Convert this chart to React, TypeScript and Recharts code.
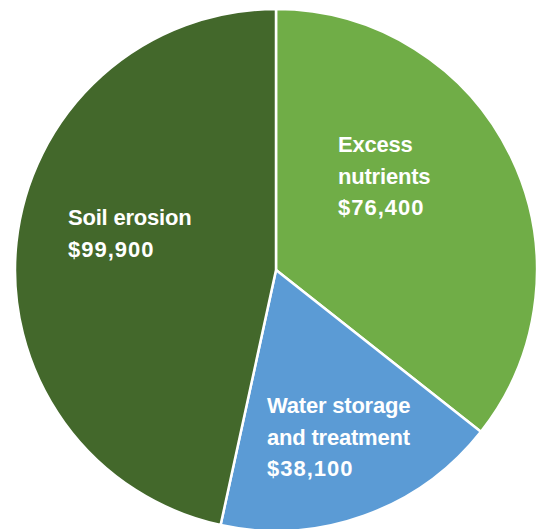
import React from "react";
import { PieChart, Pie, Cell } from "recharts";

const categories = ["Excess nutrients", "Water storage and treatment", "Soil erosion"];
const values = [76400, 38100, 99900];
const labelLines = [
  ["Excess", "nutrients", "$76,400"],
  ["Water storage", "and treatment", "$38,100"],
  ["Soil erosion", "$99,900"],
];
const colors = ["#70AD47", "#5B9BD5", "#43682B"];

// label block offsets (start x, first baseline) relative to pie centre
const labelOffsets: Record<string, [number, number]> = {
  "Excess nutrients": [62, -118],
  "Water storage and treatment": [-9, 143],
  "Soil erosion": [-208, -45],
};

const data = categories.map((name, i) => ({ name, value: values[i], lines: labelLines[i] }));

const renderLabel = (props: any) => {
  const { cx, cy, index } = props;
  const entry = data[index];
  const [dx, dy] = labelOffsets[entry.name];
  const lh = 31.5;
  return (
    <text
      x={cx + dx}
      y={cy + dy}
      fill="#ffffff"
      fontFamily="'Liberation Sans', Arial, sans-serif"
      fontWeight="bold"
      fontSize={22}
      textAnchor="start"
    >
      {entry.lines.map((l: string, i: number) => (
        <tspan
          key={i}
          x={cx + dx}
          y={cy + dy + i * lh}
          letterSpacing={l.startsWith("$") ? 1 : -0.2}
        >
          {l}
        </tspan>
      ))}
    </text>
  );
};

export default function App() {
  return (
    <div style={{ position: "absolute", left: 0, top: 0, background: "#fff" }}>
      <PieChart width={537} height={529} margin={{ top: 0, right: 0, bottom: 0, left: 0 }}>
        <Pie
          data={data}
          dataKey="value"
          nameKey="name"
          cx={276}
          cy={270}
          outerRadius={261}
          startAngle={90}
          endAngle={-270}
          stroke="#ffffff"
          strokeWidth={2.5}
          label={renderLabel}
          labelLine={false}
          isAnimationActive={false}
        >
          {data.map((d, i) => (
            <Cell key={d.name} fill={colors[i]} />
          ))}
        </Pie>
      </PieChart>
    </div>
  );
}
